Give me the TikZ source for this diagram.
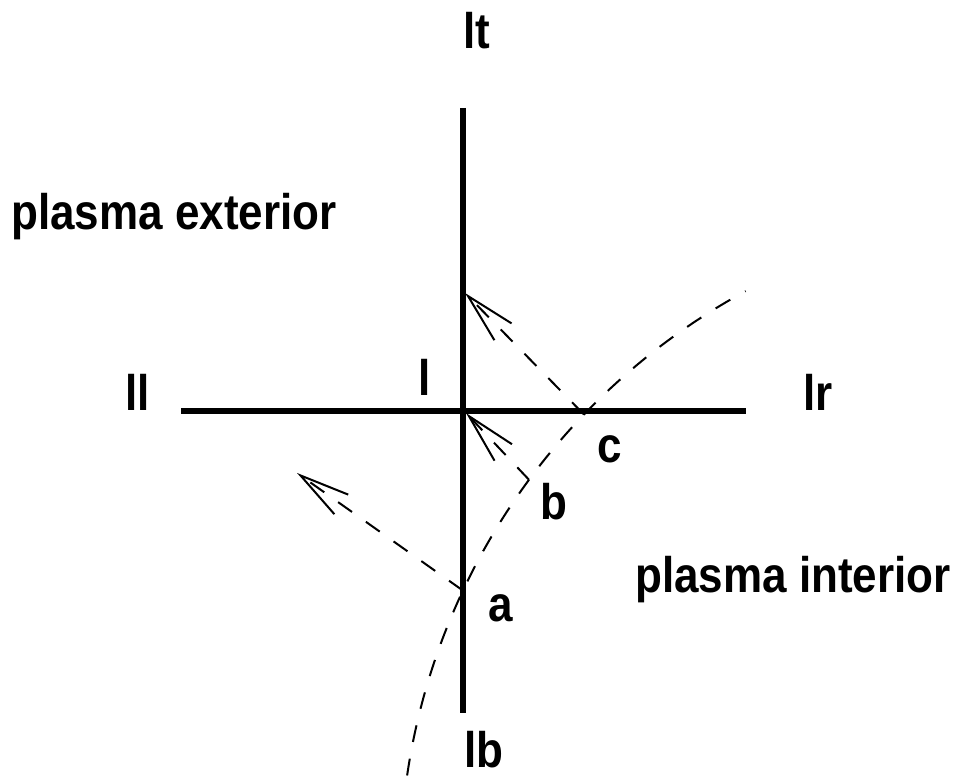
\documentclass[tikz,border=0pt]{standalone}
\usepackage{fontspec}
\setmainfont{Liberation Sans}
\newfontfamily\lblfont{Liberation Sans}[FakeStretch=0.88]
\usepackage{tikz}
\usetikzlibrary{arrows.meta, calc}

\begin{document}
\begin{tikzpicture}[x=0.5pt, y=0.5pt,
    wall/.style={line width=2.6pt},
    ray/.style={line width=1pt, dash pattern=on 8.5pt off 8.5pt,
                -{Straight Barb[length=25pt, width=12pt]}},
    lbl/.style={anchor=base west, inner sep=0pt, font=\lblfont\fontsize{25}{29}\selectfont\bfseries}
]
\useasboundingbox (0,0) rectangle (964,779);

% the two walls
\coordinate (top) at (463,671);
\coordinate (bot) at (463,66);
\coordinate (left) at (181,368);
\coordinate (right) at (746,368);
\coordinate (o) at (463,368);
\draw[wall] (top) -- (bot);
\draw[wall] (left) -- (right);

% plasma boundary
\coordinate (ctr) at (1061,-93);
\draw[line width=1pt, dash pattern=on 8.5pt off 8.5pt]
    ($(ctr)+(171.6:661)$) arc[start angle=171.6, end angle=118.5, radius=661];
\coordinate (a) at ($(ctr)+(154.8:661)$);
\coordinate (b) at ($(ctr)+(143.6:661)$);
\coordinate (c) at ($(ctr)+(136.2:661)$);

% rays
\coordinate (ta) at (297,306);
\coordinate (tb) at (466,366);
\coordinate (tc) at (465,486);
\draw[ray] (a) -- (ta);
\draw[ray] (b) -- (tb);
\draw[ray] (c) -- (tc);

% labels
\node[lbl] (lt) at (463,730) {lt};
\node[lbl] (lb) at (464,11) {lb};
\node[lbl] (ll) at (125,368) {ll};
\node[lbl] (lr) at (803,368) {lr};
\node[lbl] (l) at (418,383) {l};
\node[lbl] (la) at (488,157) {a};
\node[lbl] (lbb) at (540,259) {b};
\node[lbl] (lc) at (597,316) {c};
\node[lbl] (ext) at (11,549) {plasma exterior};
\node[lbl] (int) at (635,186) {plasma interior};
\end{tikzpicture}
\end{document}
